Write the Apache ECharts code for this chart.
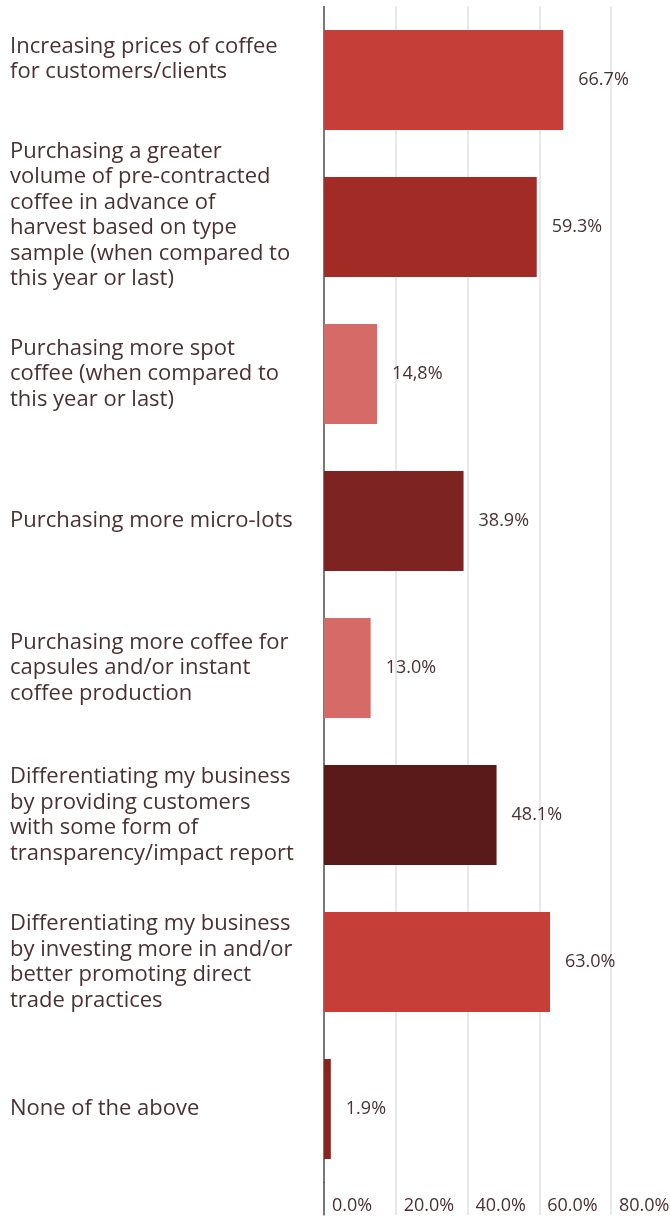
<!DOCTYPE html>
<html>
<head>
<meta charset="utf-8">
<style>
  html, body { margin: 0; padding: 0; background: #ffffff; }
  #chart { width: 670px; height: 1217px; }
</style>
<script src="https://cdn.jsdelivr.net/npm/echarts@6/dist/echarts.min.js"></script>
</head>
<body>
<div id="chart"></div>
<script>
// Survey answers, top to bottom
const categories = [
  'Increasing prices of coffee\nfor customers/clients',
  'Purchasing a greater\nvolume of pre-contracted\ncoffee in advance of\nharvest based on type\nsample (when compared to\nthis year or last)',
  'Purchasing more spot\ncoffee (when compared to\nthis year or last)',
  'Purchasing more micro-lots',
  'Purchasing more coffee for\ncapsules and/or instant\ncoffee production',
  'Differentiating my business\nby providing customers\nwith some form of\ntransparency/impact report',
  'Differentiating my business\nby investing more in and/or\nbetter promoting direct\ntrade practices',
  'None of the above'
];
// Share of respondents, in percent
const values = [66.7, 59.3, 14.8, 38.9, 13.0, 48.1, 63.0, 1.9];
// Value labels as printed next to each bar
const valueLabels = ['66.7%', '59.3%', '14,8%', '38.9%', '13.0%', '48.1%', '63.0%', '1.9%'];
// Axis ticks
const xTicks = [0, 20, 40, 60, 80];
const xTickLabels = ['0.0%', '20.0%', '40.0%', '60.0%', '80.0%'];

const barColors = ['#C53E37', '#A22B26', '#D56A66', '#7D2321', '#D56A66', '#5A1A19', '#C53E37', '#8A2421'];
const labelFont = "'Open Sans', 'Noto Sans', sans-serif";
const textColor = '#4a3134';

// the first two labels sit a little above their bar's centre:
// an empty trailing line of this height pushes them up by half of it
const labelLift = [42, 24, 0, 0, 0, 0, 0, 0];

const chart = echarts.init(document.getElementById('chart'), null, { renderer: 'canvas' });

const xMin = xTicks[0];
const xMax = xTicks[xTicks.length - 1];
const xStep = xTicks[1] - xTicks[0];

const liftStyles = {};
labelLift.forEach(function (h, i) {
  if (h) liftStyles['lift' + i] = { height: h, lineHeight: h };
});

const option = {
  animation: false,
  backgroundColor: '#ffffff',
  grid: [
    { left: 324, right: 59, top: 6.5, height: 1176, containLabel: false, outerBoundsMode: 'none' },
    { left: 324, right: 59, top: 1182.5, bottom: 2, containLabel: false, outerBoundsMode: 'none' }
  ],
  xAxis: [
    {
      gridIndex: 0, type: 'value', min: xMin, max: xMax, interval: xStep,
      axisLine: { show: false }, axisTick: { show: false },
      axisLabel: { show: false },
      splitLine: { show: true, lineStyle: { color: '#e0e0e0', width: 1.5 } }
    },
    {
      gridIndex: 1, type: 'value', min: xMin, max: xMax, interval: xStep,
      axisLine: { show: false }, axisTick: { show: false },
      splitLine: { show: true, lineStyle: { color: '#e0e0e0', width: 1.5 } },
      axisLabel: {
        show: true, inside: true, margin: 0,
        showMinLabel: true, showMaxLabel: true,
        align: 'left', padding: [0, 0, 0, 8],
        color: textColor, fontFamily: labelFont, fontSize: 18,
        formatter: function (v) {
          const i = xTicks.indexOf(v);
          return i >= 0 ? xTickLabels[i] : '';
        }
      }
    }
  ],
  yAxis: [
    {
      gridIndex: 0, type: 'category', inverse: true,
      data: categories,
      axisLine: { show: true, lineStyle: { color: '#555555', width: 1.5 } },
      axisTick: { show: false },
      splitLine: { show: false },
      axisLabel: {
        margin: 314, align: 'left', hideOverlap: false,
        color: textColor, fontFamily: labelFont, fontSize: 22, lineHeight: 25.5,
        rich: liftStyles,
        formatter: function (value, index) {
          return labelLift[index] ? value + '\n{lift' + index + '|}' : value;
        }
      }
    },
    {
      gridIndex: 1, type: 'category', data: [''],
      axisLine: { show: true, lineStyle: { color: '#555555', width: 1.5 } },
      axisTick: { show: false }, axisLabel: { show: false }, splitLine: { show: false }
    }
  ],
  series: [
    {
      type: 'bar', xAxisIndex: 0, yAxisIndex: 0,
      barWidth: 100,
      data: values.map(function (v, i) {
        return { value: v, itemStyle: { color: barColors[i] } };
      }),
      label: {
        show: true, position: 'right', distance: 15,
        color: textColor, fontFamily: labelFont, fontSize: 18,
        formatter: function (p) { return valueLabels[p.dataIndex]; }
      }
    }
  ]
};

chart.setOption(option);
</script>
</body>
</html>
